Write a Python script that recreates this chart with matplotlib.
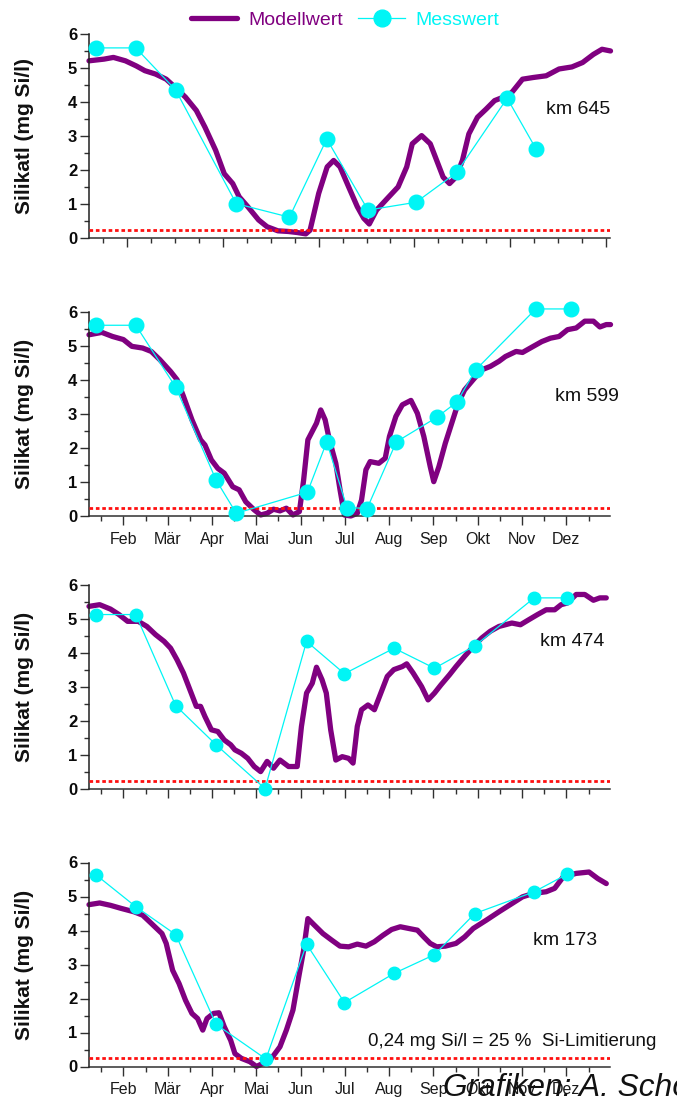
import matplotlib
matplotlib.use('Agg')
import matplotlib.pyplot as plt
import numpy as np

plt.rcParams['font.family'] = ['Liberation Sans', 'DejaVu Sans']

# x values are day of year
months = ['Feb', 'Mär', 'Apr', 'Mai', 'Jun', 'Jul', 'Aug', 'Sep', 'Okt', 'Nov', 'Dez']

# km 645
model_645_x = [8.5, 18.8, 25.2, 33.4, 40.8, 46.7, 54.0, 61.3, 68.7, 74.5, 81.9, 87.8, 95.1, 101.0, 106.8,
               111.2, 117.1, 124.5, 130.3, 137.7, 145.0, 150.9, 156.8, 159.7, 165.6, 171.4, 175.8, 180.2,
               186.1, 192.0, 196.4, 200.2, 205.2, 212.5, 219.9, 225.8, 229.6, 236.0, 241.9, 246.3, 250.7,
               255.1, 259.5, 263.9, 268.3, 274.2, 280.1, 285.9, 291.8, 297.7, 305.0, 312.4, 321.2, 330.0,
               338.8, 346.1, 353.5, 359.4, 365.2]
model_645_y = [5.22, 5.27, 5.32, 5.22, 5.07, 4.93, 4.83, 4.68, 4.39, 4.15, 3.76, 3.27, 2.59, 1.90, 1.61,
               1.22, 0.93, 0.54, 0.34, 0.22, 0.20, 0.17, 0.13, 0.24, 1.32, 2.10, 2.29, 2.10, 1.51, 0.93,
               0.59, 0.42, 0.83, 1.17, 1.51, 2.10, 2.78, 3.02, 2.78, 2.29, 1.80, 1.61, 1.80, 2.29, 3.07,
               3.56, 3.80, 4.05, 4.15, 4.29, 4.68, 4.73, 4.78, 4.98, 5.04, 5.17, 5.41, 5.56, 5.51]
mess_645_x = [13.5, 40.5, 67.8, 109.2, 145.6, 171.1, 199.3, 232.2, 260.1, 294.5, 314.1]
mess_645_y = [5.6, 5.6, 4.36, 1.02, 0.62, 2.92, 0.83, 1.06, 1.94, 4.12, 2.64]

# km 599
model_599_x = [8.5, 17.3, 24.6, 32.0, 37.8, 45.2, 51.1, 56.9, 64.3, 68.7, 73.1, 78.9, 84.8, 87.8, 92.2,
               96.6, 101.0, 106.8, 111.2, 115.7, 121.5, 125.9, 130.3, 134.7, 139.1, 143.5, 148.0, 152.4,
               155.3, 158.2, 164.1, 167.0, 170.0, 172.9, 177.3, 180.2, 183.2, 187.6, 192.0, 194.9, 197.9,
               200.8, 206.7, 211.1, 214.0, 218.4, 222.8, 228.7, 233.1, 237.5, 241.9, 244.3, 247.8, 252.2,
               256.6, 261.0, 265.4, 271.3, 277.1, 283.0, 288.9, 293.3, 300.6, 305.0, 312.4, 318.2, 324.1,
               330.0, 335.8, 341.7, 347.6, 353.5, 357.9, 362.3, 365.2]
model_599_y = [5.33, 5.40, 5.28, 5.19, 4.99, 4.94, 4.84, 4.60, 4.25, 4.01, 3.52, 2.83, 2.24, 2.09, 1.65,
               1.40, 1.26, 0.86, 0.77, 0.42, 0.18, 0.03, 0.08, 0.20, 0.15, 0.23, 0.03, 0.13, 1.06, 2.24,
               2.73, 3.12, 2.83, 2.24, 1.55, 0.77, 0.03, 0.0, 0.08, 0.47, 1.36, 1.60, 1.55, 1.70, 2.34,
               2.93, 3.27, 3.40, 3.02, 2.34, 1.45, 1.01, 1.45, 2.14, 2.73, 3.32, 3.71, 4.01, 4.30, 4.40,
               4.55, 4.69, 4.84, 4.81, 4.99, 5.13, 5.23, 5.28, 5.48, 5.53, 5.73, 5.73, 5.56, 5.63, 5.63]
mess_599_x = [13.5, 40.5, 67.8, 95.4, 109.2, 157.9, 171.1, 184.9, 198.7, 218.7, 246.3, 260.1, 273.0,
              314.1, 338.2]
mess_599_y = [5.61, 5.61, 3.79, 1.06, 0.08, 0.70, 2.18, 0.25, 0.22, 2.18, 2.90, 3.35, 4.30, 6.09, 6.09]

# km 474
model_474_x = [8.5, 15.8, 23.2, 29.0, 34.9, 42.2, 48.1, 54.0, 59.9, 64.3, 68.7, 73.1, 77.5, 81.9, 84.8,
               87.8, 92.2, 96.6, 101.0, 105.4, 108.3, 112.7, 117.1, 121.5, 125.9, 130.3, 134.7, 139.1,
               145.0, 150.9, 153.8, 157.3, 161.2, 164.1, 167.9, 170.8, 173.8, 177.3, 181.7, 186.1, 189.1,
               192.0, 194.9, 199.3, 203.7, 208.1, 212.5, 217.0, 222.8, 225.8, 230.2, 236.0, 240.4, 244.8,
               249.2, 255.1, 259.5, 265.4, 271.3, 277.1, 283.0, 288.9, 293.3, 297.7, 303.6, 309.4, 315.3,
               321.2, 327.0, 331.4, 335.8, 341.7, 347.6, 353.5, 357.9, 362.3]
model_474_y = [5.38, 5.43, 5.30, 5.14, 4.94, 4.94, 4.79, 4.55, 4.35, 4.15, 3.81, 3.42, 2.93, 2.44, 2.44,
               2.14, 1.75, 1.70, 1.45, 1.31, 1.16, 1.06, 0.91, 0.67, 0.52, 0.82, 0.62, 0.86, 0.67, 0.67,
               1.85, 2.83, 3.12, 3.59, 3.22, 2.83, 1.75, 0.86, 0.96, 0.91, 0.77, 1.85, 2.34, 2.48, 2.34,
               2.83, 3.32, 3.52, 3.61, 3.69, 3.42, 3.02, 2.63, 2.83, 3.07, 3.37, 3.61, 3.91, 4.20, 4.45,
               4.65, 4.79, 4.84, 4.89, 4.84, 4.99, 5.14, 5.28, 5.28, 5.43, 5.48, 5.73, 5.73, 5.56, 5.63,
               5.63]
mess_474_x = [13.5, 40.5, 67.8, 95.4, 128.9, 157.3, 183.2, 217.2, 244.8, 272.4, 313.0, 335.3]
mess_474_y = [5.14, 5.14, 2.46, 1.31, 0.02, 4.35, 3.40, 4.15, 3.56, 4.22, 5.63, 5.63]

# km 173
model_173_x = [8.5, 15.8, 23.2, 30.5, 39.3, 45.2, 51.1, 58.4, 61.3, 65.7, 70.1, 74.5, 78.9, 82.8, 86.3,
               89.2, 93.6, 97.4, 101.0, 105.4, 108.3, 112.7, 118.6, 123.0, 127.4, 133.3, 139.1, 143.5,
               148.0, 152.4, 155.3, 158.2, 162.6, 168.5, 174.4, 180.2, 186.1, 192.0, 197.9, 203.7, 209.6,
               215.5, 221.4, 227.2, 233.1, 237.5, 241.9, 246.3, 252.2, 259.5, 265.4, 271.3, 280.1, 288.9,
               297.7, 305.0, 312.4, 321.2, 327.0, 332.9, 341.7, 350.5, 356.4, 362.3]
model_173_y = [4.76, 4.81, 4.74, 4.65, 4.55, 4.45, 4.21, 3.91, 3.62, 2.83, 2.44, 1.95, 1.56, 1.41, 1.07,
               1.41, 1.56, 1.58, 1.17, 0.77, 0.38, 0.24, 0.14, 0.0, 0.09, 0.24, 0.58, 1.07, 1.66, 2.74,
               3.42, 4.35, 4.16, 3.91, 3.72, 3.54, 3.52, 3.60, 3.54, 3.67, 3.86, 4.03, 4.11, 4.06, 4.01,
               3.81, 3.62, 3.52, 3.54, 3.62, 3.81, 4.06, 4.30, 4.55, 4.79, 4.99, 5.09, 5.14, 5.24, 5.58,
               5.68, 5.72, 5.53, 5.38]
mess_173_x = [13.5, 40.5, 67.8, 95.4, 129.5, 157.3, 183.2, 217.2, 244.8, 272.4, 313.0, 335.3]
mess_173_y = [5.63, 4.70, 3.88, 1.24, 0.22, 3.60, 1.88, 2.74, 3.29, 4.50, 5.14, 5.65]

limit = 0.24  # mg Si/l

PURPLE = '#800080'
CYAN = '#00f5f5'
W, H = 677, 1099

fig = plt.figure(figsize=(W / 100, H / 100), dpi=100)

# axes in pixel coordinates: left, right, y of zero line
left_px, right_px = 89, 609.5
panel_h = 204
zero_px = [238.3, 516.0, 789.3, 1066.5]


def make_axes(zero):
    return fig.add_axes([left_px / W, 1 - zero / H, (right_px - left_px) / W, panel_h / H])


def draw_panel(ax, mx, my, sx, sy, km, km_xy, ylabel, msize, labels, top_ticks=False):
    ln_model, = ax.plot(mx, my, color=PURPLE, lw=3.8, solid_capstyle='round', solid_joinstyle='round',
                        clip_on=False, zorder=2)
    ax.axhline(limit, color='#ff1010', lw=2.0, linestyle=(0, (1.3, 1.0)), zorder=3)
    ln_mess, = ax.plot(sx, sy, color=CYAN, lw=0.9, marker='o', markersize=msize,
                       markerfacecolor=CYAN, markeredgecolor=CYAN, clip_on=False, zorder=4)
    ax.set_xlim(8.5, 364.5)
    ax.set_ylim(0, 6)
    for s in ['top', 'right']:
        ax.spines[s].set_visible(False)
    ax.spines['left'].set_color('#202020')
    ax.spines['bottom'].set_color('#303030')
    ax.spines['left'].set_linewidth(1.1)
    ax.spines['bottom'].set_linewidth(1.1)

    ax.set_yticks(range(0, 7))
    ax.set_yticks(np.arange(0.5, 6, 1.0), minor=True)
    if top_ticks:
        tks = np.linspace(17.9, 362.3, 22)
        ax.set_xticks(tks[1::4])
        ax.set_xticks(tks, minor=True)
        ax.set_xticklabels([])
    else:
        major = np.linspace(32, 335, 11)
        ax.set_xticks(major)
        ax.set_xticks(np.append(major - 15.15, major[-1] + 15.15), minor=True)
        if labels:
            ax.set_xticklabels(months, fontsize=11.5, color='#1a1a1a')
        else:
            ax.set_xticklabels([])
    ax.tick_params(axis='both', which='major', length=6.5, width=1.0, color='#303030', direction='out')
    ax.tick_params(axis='both', which='minor', length=3.5, width=1.0, color='#303030', direction='out')
    ax.tick_params(axis='y', pad=2)
    ax.tick_params(axis='x', pad=5)
    for t in ax.get_yticklabels():
        t.set_fontfamily(['Liberation Sans Narrow', 'Liberation Sans', 'DejaVu Sans'])
        t.set_fontweight('bold')
        t.set_fontsize(12)
        t.set_color('#0a0a0a')

    ax.set_ylabel(ylabel, fontsize=15, fontweight='bold', color='#111111')
    ax.yaxis.set_label_coords(-(left_px - 34) / (right_px - left_px), 0.5)
    ax.text(km_xy[0], km_xy[1], km, fontsize=14, ha='right', va='center', color='#111111', clip_on=False)
    return ln_model, ln_mess


ax1 = make_axes(zero_px[0])
h_model, h_mess = draw_panel(ax1, model_645_x, model_645_y, mess_645_x, mess_645_y, 'km 645', (365, 3.8),
                             'Silikatl (mg Si/l)', 10.5, False, top_ticks=True)
ax2 = make_axes(zero_px[1])
draw_panel(ax2, model_599_x, model_599_y, mess_599_x, mess_599_y, 'km 599', (371, 3.52),
           'Silikat (mg Si/l)', 10.5, True)
ax3 = make_axes(zero_px[2])
draw_panel(ax3, model_474_x, model_474_y, mess_474_x, mess_474_y, 'km 474', (361, 4.35),
           'Silikat (mg Si/l)', 9, False)
ax4 = make_axes(zero_px[3])
draw_panel(ax4, model_173_x, model_173_y, mess_173_x, mess_173_y, 'km 173', (356, 3.72),
           'Silikat (mg Si/l)', 9, True)

leg = fig.legend([h_model, h_mess], ['Modellwert', 'Messwert'], loc='center',
                 bbox_to_anchor=(345 / W, 1 - 20 / H), ncol=2, frameon=False, fontsize=14,
                 handlelength=2.4, handletextpad=0.55, columnspacing=0.8, markerscale=1.15)
for txt, col in zip(leg.get_texts(), [PURPLE, CYAN]):
    txt.set_color(col)

fig.text(368 / W, 1 - 1042 / H, '0,24 mg Si/l = 25 %  Si-Limitierung', fontsize=13.5,
         ha='left', va='center', color='#111111')
# credit line runs off the right edge, as in the source image
fig.text(443 / W, 1 - 1096 / H, 'Grafiken: A. Schöl', fontsize=22.8, style='italic',
         ha='left', va='baseline', color='#111111')

fig.savefig('out.png', dpi=100)
